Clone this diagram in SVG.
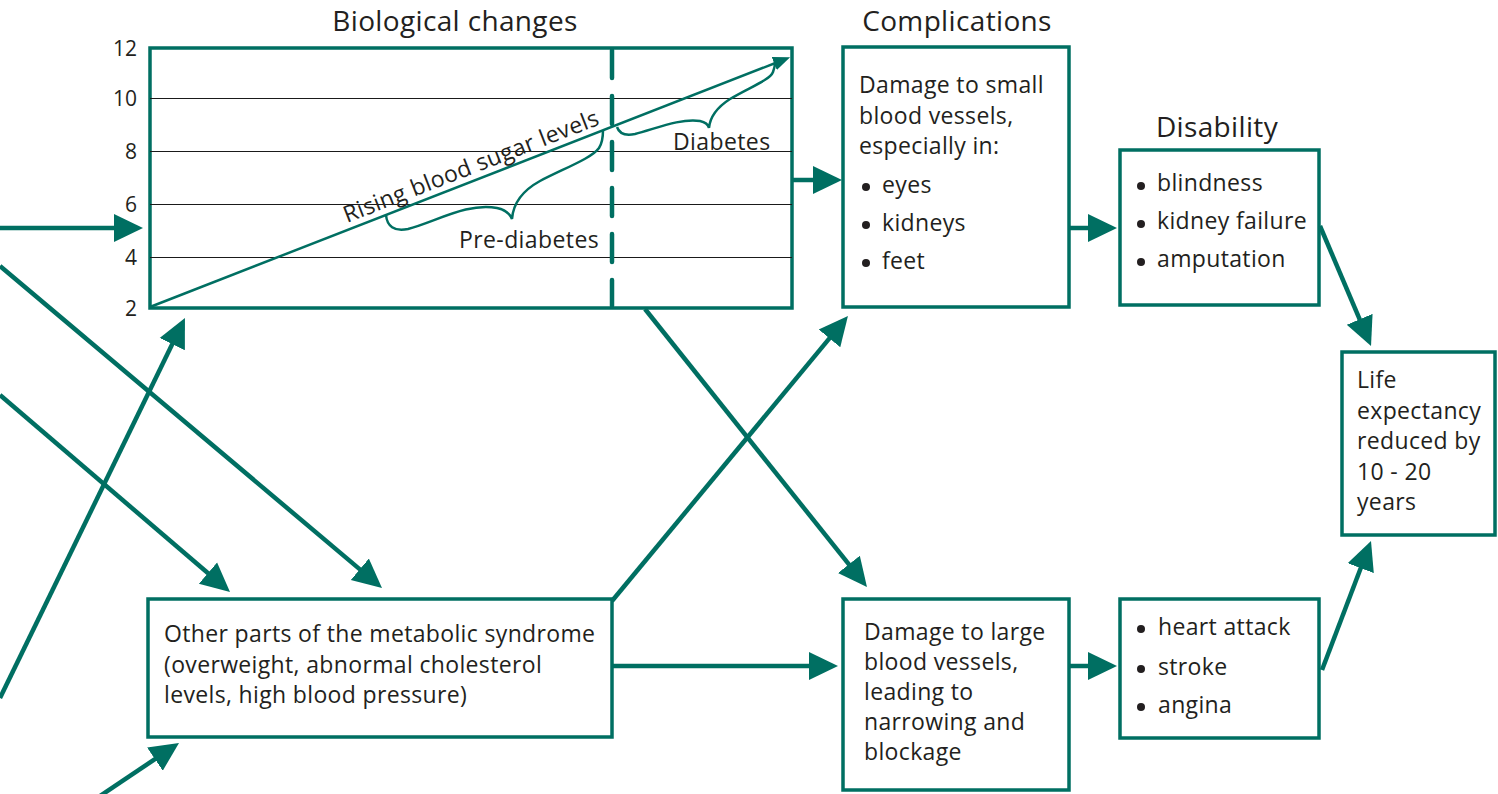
<svg xmlns="http://www.w3.org/2000/svg" width="1498" height="794" viewBox="0 0 1498 794">
  <style>
    .box { fill: #ffffff; stroke: #006f62; stroke-width: 3.5; }
    .conn { stroke: #006f62; stroke-width: 4.5; fill: none; }
    .grid { stroke: #1a1a1a; stroke-width: 1; }
    .t { font-family: "Open Sans", Lato, sans-serif; fill: #231f20; }
    .title { font-size: 28px; letter-spacing: 0.35px; text-anchor: middle; }
    .body { font-size: 23px; letter-spacing: 0.35px; }
    .axis { font-size: 21px; text-anchor: end; }
    .chart { font-size: 23px; letter-spacing: 0.4px; }
    .brace { stroke: #006f62; stroke-width: 2.5; fill: none; }
  </style>
  <defs>
    <marker id="head" viewBox="0 -15 30 30" refX="9" refY="0" markerWidth="30" markerHeight="30" markerUnits="userSpaceOnUse" orient="auto">
      <path d="M0,-14 L29,0 L0,14 Z" fill="#006f62"/>
    </marker>
    <marker id="small" viewBox="0 -8 18 16" refX="4" refY="0" markerWidth="18" markerHeight="16" markerUnits="userSpaceOnUse" orient="auto">
      <path d="M0,-7 L17,0 L0,7 Z" fill="#006f62"/>
    </marker>
  </defs>

  <!-- section titles -->
  <text class="t title" x="455" y="31">Biological changes</text>
  <text class="t title" x="957" y="31">Complications</text>
  <text class="t title" x="1217" y="137">Disability</text>

  <!-- blood sugar chart -->
  <g id="chart">
    <rect class="box" x="150" y="48" width="642" height="260"/>
    <line class="grid" x1="150" y1="98.5" x2="792" y2="98.5"/>
    <line class="grid" x1="150" y1="151.5" x2="792" y2="151.5"/>
    <line class="grid" x1="150" y1="204.5" x2="792" y2="204.5"/>
    <line class="grid" x1="150" y1="257.5" x2="792" y2="257.5"/>
    <line x1="612" y1="50" x2="612" y2="306" stroke="#006f62" stroke-width="4.5" stroke-dasharray="28 18" stroke-linecap="round"/>
    <text class="t axis" x="137" y="56">12</text>
    <text class="t axis" x="137" y="106">10</text>
    <text class="t axis" x="137" y="159">8</text>
    <text class="t axis" x="137" y="212">6</text>
    <text class="t axis" x="137" y="265">4</text>
    <text class="t axis" x="137" y="316">2</text>
    <line x1="150" y1="307" x2="778" y2="62" stroke="#006f62" stroke-width="2.5" marker-end="url(#small)"/>
    <text class="t chart" transform="translate(347,223) rotate(-21.3)">Rising blood sugar levels</text>
    <path class="brace" d="M386,215 C387,226 394,232 408,229 C435,222 468,202 497,208 C506,210 510,214 512,219 C513,205 520,192 540,181 C565,168 592,158 599,148 C603,142 603,135 603,130"/>
    <text class="t chart" x="459" y="248">Pre-diabetes</text>
    <path class="brace" d="M617,127 C619,133 625,136 635,134 C655,129 680,118 700,121 C705,122 708,124 709,128 C710,117 716,108 730,99 C750,87 770,80 773,72 C775,67 775,64 775,62"/>
    <text class="t chart" x="673" y="150">Diabetes</text>
  </g>

  <g id="small-vessels">
    <rect class="box" x="843" y="47" width="226" height="260"/>
    <text class="t body" x="859" y="93">Damage to small</text>
    <text class="t body" x="859" y="124">blood vessels,</text>
    <text class="t body" x="859" y="154">especially in:</text>
    <circle cx="866" cy="187" r="4" fill="#231f20"/>
    <text class="t body" x="882" y="193">eyes</text>
    <circle cx="866" cy="225" r="4" fill="#231f20"/>
    <text class="t body" x="882" y="231">kidneys</text>
    <circle cx="866" cy="263" r="4" fill="#231f20"/>
    <text class="t body" x="882" y="269">feet</text>
  </g>

  <g id="disability-small">
    <rect class="box" x="1120" y="150" width="199" height="155"/>
    <circle cx="1141" cy="186" r="4" fill="#231f20"/>
    <text class="t body" x="1157" y="191">blindness</text>
    <circle cx="1141" cy="224" r="4" fill="#231f20"/>
    <text class="t body" x="1157" y="229">kidney failure</text>
    <circle cx="1141" cy="262" r="4" fill="#231f20"/>
    <text class="t body" x="1157" y="267">amputation</text>
  </g>

  <g id="life-expectancy">
    <rect class="box" x="1342" y="352" width="153" height="183"/>
    <text class="t body" x="1357" y="388">Life</text>
    <text class="t body" x="1357" y="419">expectancy</text>
    <text class="t body" x="1357" y="449">reduced by</text>
    <text class="t body" x="1357" y="480">10 - 20</text>
    <text class="t body" x="1357" y="510">years</text>
  </g>

  <g id="metabolic-syndrome">
    <rect class="box" x="148" y="599" width="464" height="138"/>
    <text class="t body" x="164" y="642">Other parts of the metabolic syndrome</text>
    <text class="t body" x="164" y="673">(overweight, abnormal cholesterol</text>
    <text class="t body" x="164" y="703">levels, high blood pressure)</text>
  </g>

  <g id="large-vessels">
    <rect class="box" x="843" y="599" width="226" height="191"/>
    <text class="t body" x="864" y="640">Damage to large</text>
    <text class="t body" x="864" y="670">blood vessels,</text>
    <text class="t body" x="864" y="700">leading to</text>
    <text class="t body" x="864" y="730">narrowing and</text>
    <text class="t body" x="864" y="760">blockage</text>
  </g>

  <g id="disability-large">
    <rect class="box" x="1120" y="599" width="199" height="139"/>
    <circle cx="1141" cy="629" r="4" fill="#231f20"/>
    <text class="t body" x="1158" y="635">heart attack</text>
    <circle cx="1141" cy="669" r="4" fill="#231f20"/>
    <text class="t body" x="1158" y="675">stroke</text>
    <circle cx="1141" cy="707" r="4" fill="#231f20"/>
    <text class="t body" x="1158" y="713">angina</text>
  </g>

  <g id="connectors">
    <line class="conn" x1="0" y1="228" x2="123" y2="228" marker-end="url(#head)"/>
    <line class="conn" x1="0" y1="266" x2="366.7" y2="575.1" marker-end="url(#head)"/>
    <line class="conn" x1="0" y1="395" x2="214.8" y2="579" marker-end="url(#head)"/>
    <line class="conn" x1="0" y1="698" x2="176.2" y2="336" marker-end="url(#head)"/>
    <line class="conn" x1="100" y1="796" x2="162.4" y2="754.1" marker-end="url(#head)"/>
    <line class="conn" x1="645" y1="309" x2="854.5" y2="571.4" marker-end="url(#head)"/>
    <line class="conn" x1="612" y1="601" x2="835.2" y2="331.4" marker-end="url(#head)"/>
    <line class="conn" x1="612" y1="666" x2="818" y2="666" marker-end="url(#head)"/>
    <line class="conn" x1="792" y1="180" x2="822" y2="180" marker-end="url(#head)"/>
    <line class="conn" x1="1069" y1="228" x2="1097" y2="228" marker-end="url(#head)"/>
    <line class="conn" x1="1069" y1="666" x2="1097" y2="666" marker-end="url(#head)"/>
    <line class="conn" x1="1320" y1="226" x2="1363.2" y2="327.6" marker-end="url(#head)"/>
    <line class="conn" x1="1322" y1="670" x2="1363.9" y2="559.7" marker-end="url(#head)"/>
  </g>
</svg>
